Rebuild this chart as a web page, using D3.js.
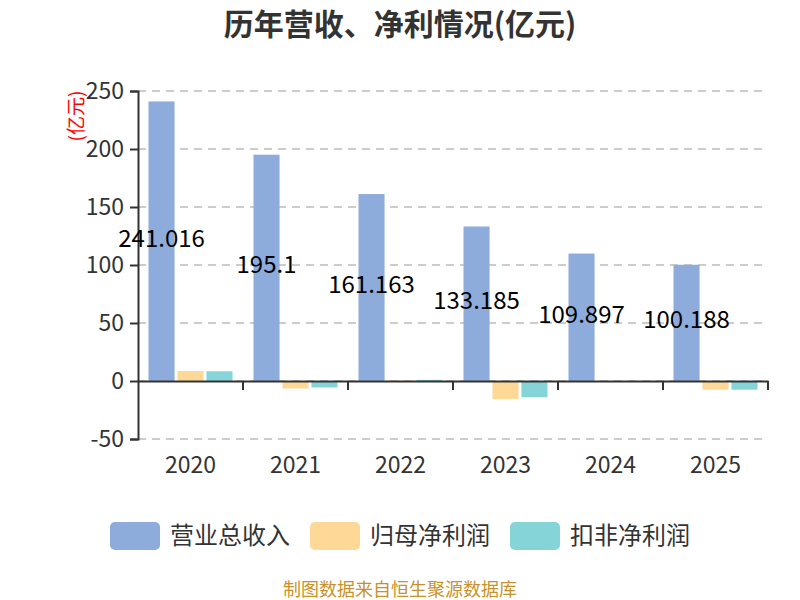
<!DOCTYPE html>
<html>
<head>
<meta charset="utf-8">
<script src="https://cdn.jsdelivr.net/npm/d3@7"></script>
<style>
  body { margin: 0; background: #fff; }
  text { font-family: "Noto Sans CJK SC", "Noto Sans", sans-serif; }
</style>
</head>
<body>
<div id="chart"></div>
<script>
// data
var years = ["2020", "2021", "2022", "2023", "2024", "2025"];
var revenue = [241.016, 195.1, 161.163, 133.185, 109.897, 100.188];
var netProfit = [8.6, -6.5, 0.3, -15.5, -0.3, -7.5];
var deductProfit = [8.4, -5.6, 1.0, -14.0, -0.6, -7.5];
var seriesNames = ["营业总收入", "归母净利润", "扣非净利润"];
var yTicks = [-50, 0, 50, 100, 150, 200, 250];

var colors = ["#8eacdb", "#fed897", "#85d4d8"];

var svgWidth = 800;
var svgHeight = 600;
var margin = { top: 91, right: 32, bottom: 161, left: 138 };
var width = svgWidth - margin.left - margin.right;
var height = svgHeight - margin.top - margin.bottom;

var svg = d3.select("#chart")
  .append("svg")
  .attr("width", svgWidth)
  .attr("height", svgHeight);

// title
svg.append("text")
  .attr("x", 400)
  .attr("y", 35)
  .attr("text-anchor", "middle")
  .attr("font-size", 30)
  .attr("font-weight", "bold")
  .attr("fill", "#333")
  .text("历年营收、净利情况(亿元)");

var chartGroup = svg.append("g")
  .attr("transform", `translate(${margin.left}, ${margin.top})`);

var xScale = d3.scaleBand()
  .domain(years)
  .range([0, width]);

var x1 = d3.scaleBand()
  .domain(d3.range(3))
  .range([10.5, xScale.bandwidth() - 10.5])
  .paddingInner(0.1);

var yScale = d3.scaleLinear()
  .domain([-50, 250])
  .range([height, 0]);

// grid lines
chartGroup.selectAll(".grid")
  .data(yTicks)
  .enter()
  .append("line")
  .attr("x1", 0)
  .attr("x2", width)
  .attr("y1", d => yScale(d))
  .attr("y2", d => yScale(d))
  .attr("stroke", "#ccc")
  .attr("stroke-width", 2)
  .attr("stroke-dasharray", "8,6");

// bars
var series = [revenue, netProfit, deductProfit];
series.forEach(function(vals, i) {
  chartGroup.selectAll(".bar" + i)
    .data(vals)
    .enter()
    .append("rect")
    .attr("x", (d, j) => xScale(years[j]) + x1(i))
    .attr("width", x1.bandwidth())
    .attr("y", d => yScale(Math.max(0, d)))
    .attr("height", d => Math.abs(yScale(d) - yScale(0)))
    .attr("fill", colors[i]);
});

// y axis
var leftAxis = d3.axisLeft(yScale)
  .tickValues(yTicks)
  .tickFormat(d => String(d))
  .tickSize(8)
  .tickPadding(6);
var yAxis = chartGroup.append("g").call(leftAxis);
yAxis.select(".domain").attr("stroke", "#333").attr("stroke-width", 2);
yAxis.selectAll(".tick line").attr("stroke", "#333").attr("stroke-width", 2);
yAxis.selectAll(".tick text")
  .attr("font-size", 23)
  .attr("fill", "#333")
  .attr("font-family", "'Noto Sans', sans-serif");

// x axis at zero line
var bottomAxis = d3.axisBottom(xScale).tickSize(0).tickFormat("");
var xAxis = chartGroup.append("g")
  .attr("transform", `translate(0, ${yScale(0)})`)
  .call(bottomAxis);
xAxis.select(".domain").attr("stroke", "#333").attr("stroke-width", 2);

// ticks at band boundaries
var boundaries = years.map(d => xScale(d) + xScale.bandwidth());
chartGroup.selectAll(".xtick")
  .data(boundaries)
  .enter()
  .append("line")
  .attr("x1", d => d)
  .attr("x2", d => d)
  .attr("y1", yScale(0))
  .attr("y2", yScale(0) + 9)
  .attr("stroke", "#333")
  .attr("stroke-width", 2);

// x labels below plot
chartGroup.selectAll(".xlabel")
  .data(years)
  .enter()
  .append("text")
  .attr("x", d => xScale(d) + xScale.bandwidth() / 2)
  .attr("y", height + 34)
  .attr("text-anchor", "middle")
  .attr("font-size", 23)
  .attr("fill", "#333")
  .attr("font-family", "'Noto Sans', sans-serif")
  .text(d => d);

// revenue value labels
chartGroup.selectAll(".vlabel")
  .data(revenue)
  .enter()
  .append("text")
  .attr("x", (d, j) => xScale(years[j]) + x1(0) + x1.bandwidth() / 2)
  .attr("y", d => (yScale(d) + yScale(0)) / 2 - 3)
  .attr("dy", "0.35em")
  .attr("text-anchor", "middle")
  .attr("font-size", 24)
  .attr("fill", "#000")
  .attr("font-family", "'Noto Sans', sans-serif")
  .text(d => d);

// unit label
svg.append("text")
  .attr("transform", "translate(83, 116) rotate(-90)")
  .attr("text-anchor", "middle")
  .attr("font-size", 19)
  .attr("fill", "#f00")
  .text("(亿元)");

// legend
var legendX = [110, 310, 510];
var legend = svg.selectAll(".legend")
  .data(seriesNames)
  .enter()
  .append("g")
  .attr("transform", (d, i) => `translate(${legendX[i]}, 522)`);
legend.append("rect")
  .attr("width", 50)
  .attr("height", 28)
  .attr("rx", 5)
  .attr("fill", (d, i) => colors[i]);
legend.append("text")
  .attr("x", 60)
  .attr("y", 14)
  .attr("dy", "0.35em")
  .attr("font-size", 24)
  .attr("fill", "#333")
  .text(d => d);

// footer
svg.append("text")
  .attr("x", 400)
  .attr("y", 596)
  .attr("text-anchor", "middle")
  .attr("font-size", 18)
  .attr("fill", "#c8922b")
  .text("制图数据来自恒生聚源数据库");
</script>
</body>
</html>
